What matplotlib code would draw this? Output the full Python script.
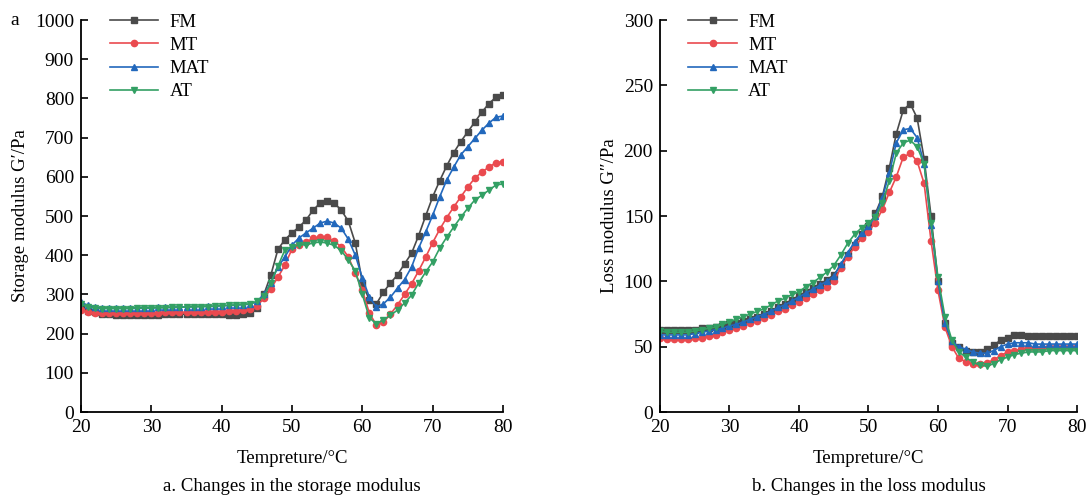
import matplotlib.pyplot as plt

plt.rcParams['font.family'] = ['Liberation Serif', 'DejaVu Serif']

temp = list(range(20, 81))

# storage modulus G' (Pa)
fm_g1 = [265, 258, 254, 251, 249, 247, 247, 247, 247, 248, 248, 248, 249, 249, 249, 250,
         250, 250, 250, 250, 249, 248, 248, 249, 252, 265, 300, 350, 415, 440, 457, 472,
         490, 515, 533, 538, 533, 515, 487, 431, 330, 285, 276, 306, 329, 350, 378, 405,
         450, 500, 549, 590, 628, 662, 690, 715, 740, 765, 787, 803, 808]
mt_g1 = [260, 255, 252, 252, 252, 252, 252, 252, 253, 253, 253, 253, 254, 254, 254, 254,
         255, 255, 255, 255, 256, 257, 258, 260, 262, 270, 290, 315, 344, 375, 416, 426,
         434, 443, 446, 446, 436, 421, 396, 354, 311, 252, 222, 229, 250, 273, 300, 327,
         360, 395, 432, 466, 496, 523, 549, 574, 597, 612, 625, 636, 638]
mat_g1 = [280, 272, 268, 266, 265, 265, 265, 265, 266, 266, 266, 267, 267, 268, 268, 268,
          269, 269, 270, 270, 271, 272, 273, 274, 275, 282, 300, 330, 370, 396, 426, 444,
          457, 469, 482, 487, 482, 469, 441, 400, 342, 293, 268, 276, 293, 316, 338, 370,
          418, 459, 502, 549, 592, 625, 656, 677, 698, 719, 737, 752, 755]
at_g1 = [275, 268, 265, 264, 264, 264, 264, 264, 265, 265, 265, 266, 266, 267, 267, 268,
         268, 269, 269, 270, 271, 272, 273, 274, 276, 282, 295, 330, 372, 414, 421, 426,
         427, 431, 434, 431, 425, 412, 388, 360, 300, 240, 225, 235, 247, 260, 278, 298,
         329, 357, 383, 418, 446, 472, 497, 520, 541, 553, 566, 579, 582]

# loss modulus G'' (Pa)
fm_g2 = [63, 63, 63, 63, 63, 63, 64, 64, 65, 66, 67, 68, 70, 71, 73, 75, 77, 80, 83, 86,
         89, 92, 95, 98, 101, 105, 112, 120, 128, 136, 142, 152, 165, 187, 213, 231, 236,
         225, 194, 150, 100, 68, 53, 50, 47, 46, 46, 48, 51, 55, 57, 59, 59, 58, 58, 58,
         58, 58, 58, 58, 58]
mt_g2 = [57, 56, 56, 56, 56, 57, 57, 58, 59, 61, 63, 64, 66, 68, 70, 72, 74, 77, 79, 82,
         84, 87, 90, 93, 96, 100, 110, 119, 126, 133, 138, 145, 155, 168, 180, 195, 198,
         192, 175, 131, 93, 65, 50, 41, 38.5, 37, 37, 37.5, 40, 43, 46, 47, 48, 49, 49,
         49, 50, 50, 50, 50, 50]
mat_g2 = [59, 59, 59, 59, 59, 60, 61, 62, 63, 64, 66, 67, 69, 71, 73, 75, 77, 80, 82, 85,
          88, 91, 94, 97, 100, 104, 113, 122, 130, 137, 142, 150, 164, 183, 206, 216, 217,
          210, 190, 143, 100, 68, 54, 50, 48, 46, 45, 45, 47, 50, 52, 53, 53, 53, 52, 52,
          52, 52, 52, 52, 52]
at_g2 = [62, 61, 61, 61, 61, 62, 63, 64, 65, 67, 69, 71, 73, 75, 77, 79, 82, 85, 87, 90,
         92, 96, 99, 103, 107, 112, 120, 129, 136, 141, 145, 149, 160, 177, 198, 206, 208,
         203, 190, 145, 103, 73, 55, 46, 42, 38, 36, 35, 37, 40, 42, 44, 45, 46, 46, 46,
         47, 47, 47, 47, 47]

names = ['FM', 'MT', 'MAT', 'AT']
colors = ['#4a4a4a', '#ea4a4f', '#2268bc', '#33a064']
markers = ['s', 'o', '^', 'v']

fig = plt.figure(figsize=(10.89, 4.99), dpi=100)
ax1 = fig.add_axes([0.0744, 0.1743, 0.3875, 0.7856])
ax2 = fig.add_axes([0.606, 0.1743, 0.383, 0.7856])


def draw(ax, series, ymax, ystep, ylabel):
    for y, name, c, m in zip(series, names, colors, markers):
        ax.plot(temp, y, color=c, marker=m, markersize=4.5, linewidth=1.2, label=name)
    ax.set_xlim(20, 80)
    ax.set_ylim(0, ymax)
    ax.set_xticks(range(20, 81, 10))
    ax.set_yticks(range(0, ymax + 1, ystep))
    ax.spines['top'].set_visible(False)
    ax.spines['right'].set_visible(False)
    ax.spines['left'].set_linewidth(1.3)
    ax.spines['bottom'].set_linewidth(1.3)
    ax.tick_params(direction='in', length=5, width=1.2, labelsize=14)
    ax.tick_params(axis='x', pad=5)
    ax.tick_params(axis='y', pad=5)
    ax.set_xlabel('Tempreture/°C', fontsize=13.5, labelpad=10)
    ax.set_ylabel(ylabel, fontsize=13.5, labelpad=4)
    ax.legend(loc='upper left', bbox_to_anchor=(0.05, 1.035), frameon=False,
              fontsize=13.5, handlelength=2.6, labelspacing=0.32, borderaxespad=0,
              handletextpad=0.6)


draw(ax1, [fm_g1, mt_g1, mat_g1, at_g1], 1000, 100, 'Storage modulus G′/Pa')
draw(ax2, [fm_g2, mt_g2, mat_g2, at_g2], 300, 50, 'Loss modulus G″/Pa')

fig.text(0.0095, 0.958, 'a', fontsize=14, va='center')
fig.text(0.268, 0.026, 'a. Changes in the storage modulus', fontsize=13.5,
         ha='center', va='center')
fig.text(0.798, 0.026, 'b. Changes in the loss modulus', fontsize=13.5,
         ha='center', va='center')

fig.savefig('out.png', dpi=100)
